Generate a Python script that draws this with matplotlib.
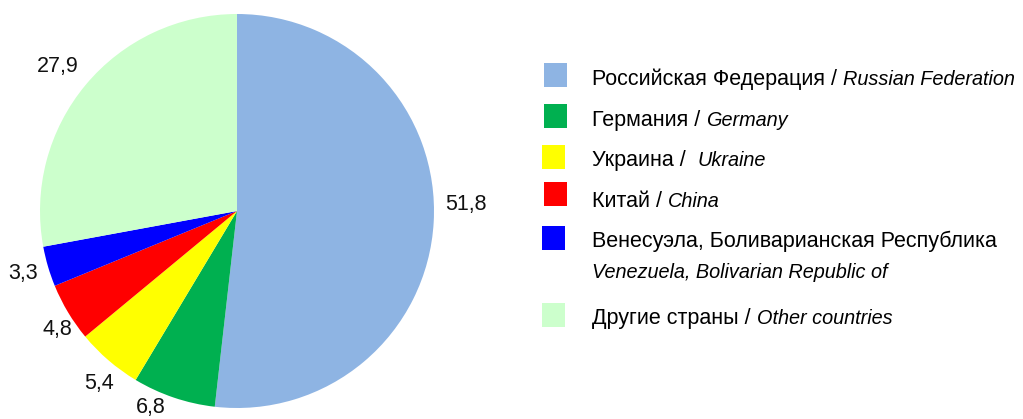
import matplotlib
matplotlib.use("Agg")
import matplotlib.pyplot as plt
from matplotlib.patches import Rectangle
from matplotlib import font_manager

names = {f.name for f in font_manager.fontManager.ttflist}
FAM = ['Liberation Sans Narrow', 'Liberation Sans', 'DejaVu Sans'] if 'Liberation Sans Narrow' in names else ['Liberation Sans', 'DejaVu Sans']
plt.rcParams['font.family'] = FAM

values = [51.8, 6.8, 5.4, 4.8, 3.3, 27.9]
value_labels = ["51,8", "6,8", "5,4", "4,8", "3,3", "27,9"]
names_ru = ["Российская Федерация / ", "Германия / ", "Украина /  ", "Китай / ",
            "Венесуэла, Боливарианская Республика", "Другие страны / "]
names_en = ["Russian Federation", "Germany", "Ukraine", "China",
            "Venezuela, Bolivarian Republic of", "Other countries"]
colors = ["#8EB4E3", "#00B050", "#FFFF00", "#FF0000", "#0000FF", "#CCFFCC"]

W, H = 1023, 419
R_PX = 197
fig = plt.figure(figsize=(W / 100, H / 100), dpi=100)
ax = fig.add_axes([40 / W, 11 / H, 394 / W, 394 / H])
wedges, texts = ax.pie(values, labels=value_labels, colors=colors, startangle=90,
                       counterclock=False, labeldistance=1.13,
                       wedgeprops=dict(linewidth=0),
                       textprops=dict(fontsize=15.5, color="#111111"))
# pixel nudges (right, up) for label placement
nudges = [(7, 19), (-15, 14), (7, -4), (11, -4), (0, 0), (-8, 2)]
for t, (dx, dy) in zip(texts, nudges):
    x, y = t.get_position()
    t.set_position((x + dx / R_PX, y + dy / R_PX))
    t.set_ha('center')
    t.set_va('center')
    t.set_clip_on(False)
ax.set_xlim(-1, 1)
ax.set_ylim(-1, 1)
ax.set_aspect('equal')
ax.axis('off')

# manual legend
sq_tops = [63, 104, 145, 182, 226, 303]
sq_x = [544, 544, 542, 544, 542, 542]
baselines = [85, 126, 166, 207, 247, 324]
fs = 15.5
fs_it = 14.3
renderer = fig.canvas.get_renderer()
for i in range(len(values)):
    fig.patches.append(Rectangle((sq_x[i] / W, 1 - (sq_tops[i] + 24) / H), 23 / W, 24 / H,
                                 transform=fig.transFigure, facecolor=colors[i],
                                 edgecolor='none'))
    t1 = fig.text(592 / W, 1 - baselines[i] / H, names_ru[i], fontsize=fs,
                  va='baseline', ha='left', color='black')
    if i == 4:
        fig.text(592 / W, 1 - 278 / H, names_en[i], fontsize=fs_it, style='italic',
                 va='baseline', ha='left', color='black')
    else:
        bb = t1.get_window_extent(renderer)
        fig.text(bb.x1 / W, 1 - baselines[i] / H, names_en[i], fontsize=fs_it,
                 style='italic', va='baseline', ha='left', color='black')

fig.savefig("out.png", dpi=100)
